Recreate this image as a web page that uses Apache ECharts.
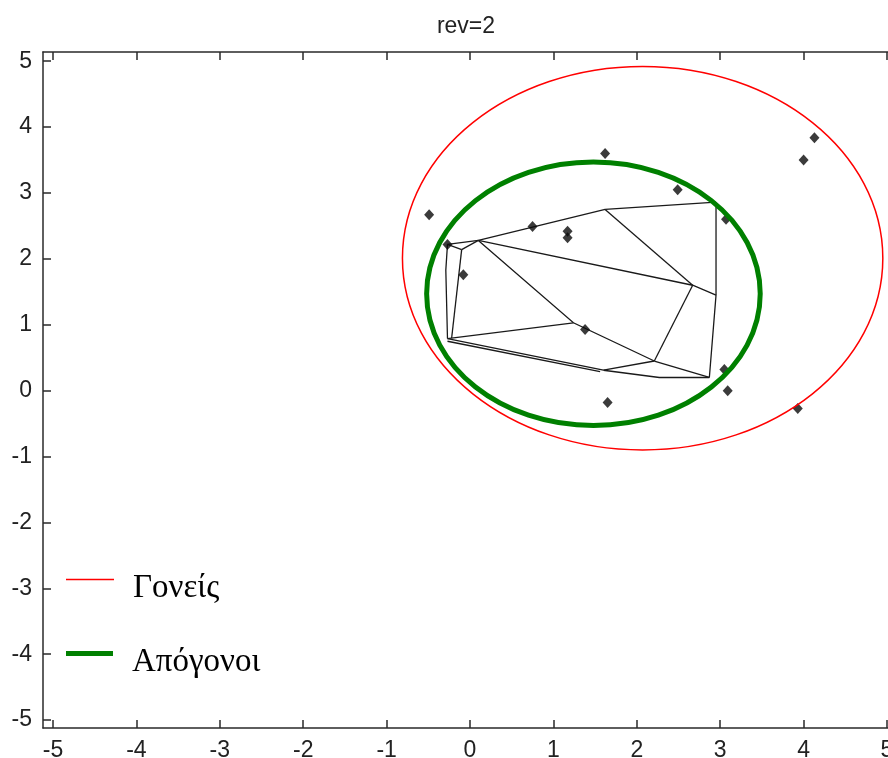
<!DOCTYPE html>
<html><head><meta charset="utf-8">
<script src="https://cdn.jsdelivr.net/npm/echarts@6/dist/echarts.min.js"></script>
<style>html,body{margin:0;padding:0;background:#fff}#c{width:888px;height:758px}</style>
</head><body><div id="c"></div>
<script>
// ---- data ----
const titleText = 'rev=2';
const tickValues = [-5, -4, -3, -2, -1, 0, 1, 2, 3, 4, 5];
const xRange = [-5.12, 5.12];
const yRange = [-5.12, 5.14];
const parentName = 'Γονείς';
const childName = 'Απόγονοι';
// [centerX, centerY, radiusX, radiusY]
const parentEllipse = [2.07, 2.01, 2.88, 2.91];
const childEllipse = [1.48, 1.47, 2.0, 2.0];
// black diamond markers
const points = [
  [-0.49, 2.67], [1.62, 3.60], [2.49, 3.05], [4.13, 3.84], [4.00, 3.50],
  [3.07, 2.60], [0.75, 2.49], [1.17, 2.42], [1.17, 2.32], [-0.27, 2.22],
  [-0.08, 1.76], [1.38, 0.93], [3.05, 0.32], [3.09, 0.00], [1.65, -0.18],
  [3.93, -0.27]
];
// black polyline network
const edges = [
  [[-0.27, 2.22], [0.10, 2.28]],
  [[-0.27, 2.22], [-0.10, 2.14]],
  [[-0.10, 2.14], [0.10, 2.28]],
  [[-0.27, 2.22], [-0.29, 1.83], [-0.27, 0.79]],
  [[-0.10, 2.14], [-0.22, 0.80]],
  [[0.10, 2.28], [1.62, 2.75]],
  [[1.62, 2.75], [2.95, 2.86]],
  [[2.95, 2.86], [2.95, 1.45], [2.87, 0.20]],
  [[1.62, 2.75], [2.67, 1.60]],
  [[0.10, 2.28], [2.67, 1.60], [2.95, 1.45]],
  [[2.67, 1.60], [2.21, 0.45]],
  [[0.10, 2.28], [1.24, 1.03], [2.21, 0.45]],
  [[-0.27, 0.79], [1.24, 1.03]],
  [[-0.27, 0.79], [1.60, 0.31]],
  [[-0.27, 0.75], [1.56, 0.29]],
  [[1.60, 0.31], [2.21, 0.45]],
  [[1.60, 0.31], [2.27, 0.20], [2.87, 0.20]],
  [[2.21, 0.45], [2.87, 0.20]]
];

// ---- chart ----
const chart = echarts.init(document.getElementById('c'), null, {renderer: 'canvas'});
const axisColor = '#2a2a2a';
const labelFont = {fontFamily: 'Liberation Sans, Arial, sans-serif', fontSize: 23, color: '#222'};

function mkAxis(pos, range, showLabel, showLine, tickColor) {
  return {
    type: 'value', position: pos, min: range[0], max: range[1],
    axisLine: {show: showLine, onZero: false, lineStyle: {color: axisColor, width: 1.5}},
    axisTick: {show: true, inside: true, length: 8, customValues: tickValues, lineStyle: {color: tickColor, width: 1.5}},
    axisLabel: Object.assign({show: showLabel, customValues: tickValues, margin: 11}, labelFont),
    splitLine: {show: false}
  };
}

function ellipseRenderer(color, width) {
  return function (params, api) {
    const c = api.coord([api.value(0), api.value(1)]);
    const s = api.size([api.value(2), api.value(3)]);
    return {
      type: 'ellipse',
      shape: {cx: c[0], cy: c[1], rx: s[0], ry: s[1]},
      style: {fill: 'none', stroke: color, lineWidth: width}
    };
  };
}

const legendText = {
  fontFamily: 'Liberation Serif, Times New Roman, serif', fontSize: 33, color: '#000', padding: [0, 0, 0, 14],
  rich: {t: {fontFamily: 'Liberation Serif, Times New Roman, serif', fontSize: 33, color: '#000', padding: [18, 0, 0, 0]}}
};

chart.setOption({
  animation: false,
  backgroundColor: '#fff',
  title: {
    text: titleText, left: 461, top: 10, textAlign: 'center',
    textStyle: {fontFamily: 'Liberation Sans, Arial, sans-serif', fontSize: 23, fontWeight: 'normal', color: '#222'}
  },
  grid: {left: 43, top: 52, width: 854, height: 676, containLabel: false, outerBoundsMode: 'none'},
  xAxis: [mkAxis('bottom', xRange, true, true, axisColor), mkAxis('top', xRange, false, true, axisColor)],
  yAxis: [mkAxis('left', yRange, true, true, axisColor), mkAxis('right', yRange, false, false, '#e4e4e4')],
  legend: [
    {data: [{name: parentName, icon: 'rect'}], left: 66, top: 572, padding: 0, formatter: '{t|{name}}',
     itemWidth: 48, itemHeight: 1.5, itemStyle: {color: '#ff0000'}, textStyle: legendText, selectedMode: false},
    {data: [{name: childName, icon: 'rect'}], left: 66, top: 646, padding: 0, formatter: '{t|{name}}',
     itemWidth: 47, itemHeight: 5, itemStyle: {color: '#008000'}, textStyle: legendText, selectedMode: false}
  ],
  series: [
    {
      type: 'lines', coordinateSystem: 'cartesian2d', polyline: true, silent: true, z: 2,
      lineStyle: {color: '#1a1a1a', width: 1.3, opacity: 1, curveness: 0},
      data: edges.map(e => ({coords: e}))
    },
    {
      type: 'scatter', symbol: 'diamond', symbolSize: [10, 11], z: 3, silent: true,
      itemStyle: {color: '#0a0a0a'}, data: points
    },
    {
      name: parentName, type: 'custom', z: 4, silent: true,
      itemStyle: {color: '#ff0000'},
      encode: {x: 0, y: 1},
      renderItem: ellipseRenderer('#ff0000', 1.5),
      data: [parentEllipse]
    },
    {
      name: childName, type: 'custom', z: 5, silent: true,
      itemStyle: {color: '#008000'},
      encode: {x: 0, y: 1},
      renderItem: ellipseRenderer('#008000', 5),
      data: [childEllipse]
    }
  ]
});
</script>
</body></html>
